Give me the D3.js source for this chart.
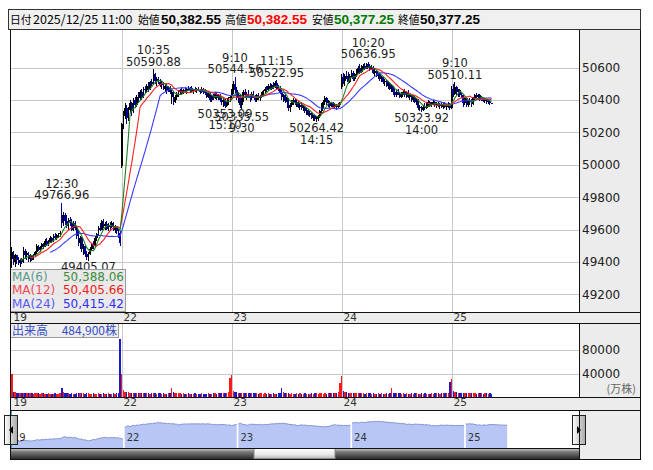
<!DOCTYPE html>
<html><head><meta charset="utf-8">
<script src="https://cdn.jsdelivr.net/npm/d3@7/dist/d3.min.js"></script>
<style>body{margin:0;background:#fff}svg{display:block}</style>
</head><body><svg id="c" width="653" height="470"></svg>
<script>
// ---------- DATA ----------
const days = ["19", "22", "23", "24", "25"];
// OHLC per 5-minute bar, one array per day
const ohlc19 = [[49420,49490,49360,49460],[49460,49470,49380,49400],[49400,49450,49370,49440],[49440,49445,49390,49410],[49410,49430,49380,49395],[49395,49420,49370,49415],[49415,49425,49385,49400],[49400,49490,49395,49470],[49470,49480,49420,49440],[49440,49465,49410,49455],[49455,49460,49400,49420],[49420,49450,49400,49440],[49440,49445,49405,49415],[49415,49450,49410,49445],[49445,49470,49430,49460],[49460,49510,49450,49500],[49500,49505,49465,49475],[49475,49500,49460,49490],[49490,49520,49480,49510],[49510,49515,49480,49495],[49495,49540,49490,49530],[49530,49545,49500,49510],[49510,49535,49500,49525],[49525,49560,49515,49550],[49550,49555,49520,49530],[49530,49570,49525,49560],[49560,49580,49540,49545],[49545,49575,49535,49565],[49565,49580,49550,49570],[49570,49590,49555,49580],[49690,49767,49610,49640],[49640,49710,49620,49690],[49690,49700,49630,49650],[49650,49690,49610,49625],[49625,49670,49600,49660],[49660,49680,49620,49640],[49640,49665,49590,49600],[49600,49650,49590,49640],[49640,49655,49600,49610],[49610,49620,49540,49560],[49560,49590,49500,49520],[49520,49560,49480,49550],[49550,49555,49460,49480],[49480,49510,49440,49500],[49500,49505,49430,49450],[49450,49470,49415,49430],[49430,49460,49405,49450],[49450,49490,49440,49480],[49480,49520,49470,49510],[49510,49530,49480,49500],[49500,49560,49495,49550],[49550,49580,49530,49570],[49570,49620,49560,49610],[49610,49640,49590,49600],[49600,49660,49595,49650],[49650,49665,49610,49620],[49620,49645,49600,49635],[49635,49650,49595,49605],[49605,49640,49590,49630],[49630,49645,49600,49615],[49615,49650,49610,49640],[49640,49645,49590,49600],[49600,49630,49580,49620],[49620,49625,49570,49590],[49590,49610,49550,49580],[49580,49590,49500,49520]];
const ohlc22 = [[49990,50260,49980,50250],[50250,50330,50220,50300],[50300,50380,50280,50350],[50350,50370,50250,50290],[50290,50360,50270,50340],[50340,50400,50320,50380],[50380,50390,50300,50330],[50330,50410,50320,50400],[50400,50420,50350,50370],[50370,50430,50360,50420],[50420,50450,50390,50410],[50410,50460,50400,50450],[50450,50470,50400,50420],[50420,50480,50410,50470],[50470,50490,50440,50460],[50460,50500,50450,50490],[50490,50510,50450,50470],[50470,50520,50460,50510],[50510,50530,50490,50500],[50500,50591,50495,50560],[50560,50570,50500,50520],[50520,50540,50490,50530],[50530,50545,50500,50510],[50510,50530,50480,50495],[50495,50520,50470,50500],[50500,50510,50460,50470],[50470,50500,50450,50490],[50490,50500,50440,50460],[50460,50490,50450,50480],[50480,50490,50440,50450],[50420,50460,50375,50450],[50450,50455,50370,50390],[50390,50430,50380,50420],[50420,50450,50400,50440],[50440,50460,50420,50450],[50450,50470,50430,50460],[50460,50480,50440,50445],[50445,50470,50435,50465],[50465,50480,50450,50455],[50455,50475,50440,50470],[50470,50490,50455,50460],[50460,50480,50445,50475],[50475,50485,50450,50455],[50455,50470,50440,50465],[50465,50480,50450,50460],[50460,50475,50445,50470],[50470,50480,50455,50460],[50460,50470,50440,50450],[50450,50480,50445,50470],[50470,50475,50440,50455],[50455,50470,50430,50445],[50445,50460,50410,50420],[50420,50450,50410,50440],[50440,50445,50390,50400],[50400,50430,50390,50425],[50425,50440,50400,50410],[50410,50450,50405,50440],[50440,50450,50400,50415],[50415,50440,50400,50430],[50430,50435,50390,50400],[50400,50420,50370,50385],[50385,50410,50360,50400],[50400,50405,50353,50365],[50365,50390,50355,50380],[50380,50420,50370,50410],[50410,50430,50390,50420]];
const ohlc23 = [[50430,50470,50400,50450],[50450,50520,50440,50500],[50500,50545,50440,50460],[50460,50480,50400,50410],[50410,50450,50380,50430],[50430,50440,50350,50370],[50370,50420,50336,50400],[50400,50460,50390,50450],[50450,50470,50420,50430],[50430,50450,50400,50440],[50440,50460,50410,50420],[50420,50440,50390,50410],[50410,50450,50400,50440],[50440,50455,50410,50420],[50420,50430,50390,50400],[50400,50440,50390,50430],[50430,50445,50400,50410],[50410,50430,50395,50425],[50425,50450,50415,50440],[50440,50460,50430,50455],[50455,50480,50440,50470],[50470,50490,50450,50460],[50460,50500,50455,50490],[50490,50505,50460,50470],[50470,50500,50465,50495],[50495,50510,50470,50480],[50480,50515,50475,50505],[50505,50523,50470,50480],[50480,50495,50455,50470],[50470,50490,50440,50450],[50450,50460,50400,50420],[50420,50440,50390,50430],[50430,50435,50380,50395],[50395,50420,50385,50410],[50410,50415,50330,50350],[50350,50380,50325,50370],[50370,50400,50360,50390],[50390,50410,50370,50400],[50400,50405,50370,50380],[50380,50400,50360,50390],[50390,50395,50350,50360],[50360,50380,50340,50370],[50370,50385,50340,50350],[50350,50370,50330,50360],[50360,50365,50320,50330],[50330,50350,50310,50340],[50340,50345,50300,50310],[50310,50330,50295,50320],[50320,50325,50280,50290],[50290,50310,50270,50300],[50300,50305,50270,50280],[50280,50300,50264,50290],[50290,50310,50270,50300],[50300,50340,50290,50330],[50330,50380,50320,50370],[50370,50400,50350,50390],[50390,50425,50370,50410],[50410,50420,50370,50380],[50380,50400,50360,50390],[50390,50395,50350,50365],[50365,50390,50355,50380],[50380,50385,50350,50360],[50360,50380,50345,50370],[50370,50375,50340,50355],[50355,50380,50350,50370],[50370,50390,50360,50380]];
const ohlc24 = [[50480,50560,50470,50540],[50540,50570,50500,50520],[50520,50560,50490,50550],[50550,50580,50530,50540],[50540,50575,50500,50510],[50510,50560,50505,50550],[50550,50585,50540,50570],[50570,50580,50520,50530],[50530,50570,50520,50560],[50560,50590,50540,50580],[50580,50610,50570,50600],[50600,50620,50560,50575],[50575,50615,50570,50605],[50605,50625,50590,50610],[50610,50630,50585,50595],[50595,50630,50590,50620],[50620,50637,50600,50610],[50610,50625,50580,50590],[50590,50615,50585,50600],[50600,50610,50560,50570],[50570,50590,50550,50580],[50580,50585,50540,50550],[50550,50570,50530,50560],[50560,50565,50520,50530],[50530,50550,50510,50540],[50540,50545,50500,50510],[50510,50530,50490,50520],[50520,50525,50480,50490],[50490,50510,50470,50500],[50500,50505,50460,50470],[50470,50495,50450,50485],[50485,50490,50430,50450],[50450,50475,50420,50430],[50430,50460,50420,50450],[50450,50470,50430,50440],[50440,50450,50410,50420],[50420,50450,50410,50440],[50440,50460,50430,50450],[50450,50470,50420,50430],[50430,50455,50415,50445],[50445,50460,50410,50420],[50420,50440,50400,50430],[50430,50435,50390,50400],[50400,50430,50390,50420],[50420,50425,50380,50390],[50390,50410,50370,50400],[50400,50405,50340,50350],[50350,50370,50330,50360],[50360,50365,50324,50340],[50340,50370,50330,50360],[50360,50380,50340,50350],[50350,50385,50345,50375],[50375,50400,50360,50390],[50390,50395,50360,50370],[50370,50390,50355,50380],[50380,50400,50370,50390],[50390,50395,50360,50370],[50370,50385,50350,50375],[50375,50390,50355,50365],[50365,50380,50345,50370],[50370,50385,50350,50360],[50360,50380,50345,50375],[50375,50385,50350,50360],[50360,50375,50340,50365],[50360,50385,50350,50375],[50375,50380,50340,50350]];
const ohlc25 = [[50350,50490,50345,50470],[50470,50500,50420,50440],[50440,50510,50430,50480],[50480,50490,50430,50450],[50450,50470,50420,50460],[50460,50470,50420,50430],[50430,50450,50410,50420],[50420,50430,50360,50380],[50380,50420,50370,50410],[50410,50415,50360,50370],[50370,50400,50360,50390],[50390,50410,50370,50400],[50400,50405,50360,50375],[50375,50420,50370,50410],[50410,50440,50400,50430],[50430,50445,50410,50420],[50420,50440,50405,50430],[50430,50435,50395,50405],[50405,50425,50395,50415],[50415,50420,50385,50395],[50395,50410,50380,50400],[50400,50405,50375,50385],[50385,50400,50375,50395],[50395,50400,50370,50383],[50382.55,50382.55,50377.25,50377.25]];
// volume per bar
const vol19 = [40000,9000,8000,7500,7000,6500,7000,7500,6500,6000,7000,6000,6500,5500,6000,7000,6000,5500,6000,6500,5000,5500,6000,5000,5500,5000,6000,5500,5000,6000,15500,8000,7000,6000,6500,5500,6000,5000,5500,6500,6000,7000,6500,6000,5500,6000,7000,5500,5000,6000,5500,5000,6000,5500,5000,6500,5000,5500,6000,5000,5500,6000,5500,6500,7000,98000];
const vol22 = [40000,12000,9000,8000,8000,7500,7000,7500,6500,7000,6500,6000,6500,7000,6000,6500,6000,5500,7000,6500,6000,5500,6000,6500,5500,6000,5500,5000,6000,6500,15000,8000,7000,6500,6000,6500,5500,6000,5500,5000,6000,5500,5000,5500,6000,5000,5500,5000,6000,5500,5000,5500,6000,5500,5000,6000,6500,5500,6000,6500,6000,7000,6500,7000,8000,32000];
const vol23 = [38000,11000,8500,8000,7500,7000,7500,6500,7000,6500,6000,6500,7000,6000,6500,6000,5500,6500,6000,5500,6000,5500,6000,5000,5500,6000,5500,5000,6000,6500,15000,8000,7000,6500,6000,5500,6000,5500,5000,6000,5500,6000,5000,5500,6000,5500,5000,5500,6000,5500,6500,6000,5500,6000,6500,5500,6000,5500,6000,6500,6000,6500,7000,7500,9000,23000];
const vol24 = [35000,11000,9000,8000,7500,7000,7500,7000,6500,7000,6500,6000,6500,6000,5500,6000,6500,6000,5500,6000,5500,5000,6000,5500,6000,5000,5500,6000,5500,6000,15000,7500,7000,6500,6000,6500,5500,6000,5500,6000,5500,5000,6000,5500,6000,6500,5500,5000,6000,5500,6000,5500,5000,5500,6000,5500,6000,6500,6000,5500,6000,6500,7000,7500,6000,26000];
const vol25 = [31000,11000,9000,8000,7500,7000,7500,6500,7000,6000,6500,6000,7000,6500,6000,5500,6000,6500,6000,5500,6000,6500,5500,6000,5500];

const priceTicks = [49200, 49400, 49600, 49800, 50000, 50200, 50400, 50600];
const volTicks = [40000, 80000];
// swing annotations (bar index, time, value, High/Low)
const annIdx   = [30, 46, 85, 128, 134, 138, 159, 183, 214, 246, 266];
const annTime  = ["12:30","13:50","10:35","15:10","9:10","9:30","11:15","14:15","10:20","14:00","9:10"];
const annValue = [49766.96, 49405.07, 50590.88, 50353.09, 50544.56, 50335.55, 50522.95, 50264.42, 50636.95, 50323.92, 50510.11];
const annKind  = ["H","L","H","L","H","L","H","L","H","L","H"];
const maPeriods = [24, 12, 6];
const maColors  = ["#3a3aff", "#ff2020", "#1f7f1f"];
const maLegendLabels = ["MA(6)", "MA(12)", "MA(24)"];
const maLegendValues = ["50,388.06", "50,405.66", "50,415.42"];
const maLegendLabelColors = ["#5a9a8a", "#f04858", "#5a5af0"];
const maLegendValueColors = ["#3c8c3c", "#f02020", "#3030f0"];
const headerParts = [
  {t:"日付", x:10, kind:"j", c:"#000"},
  {t:"2025/12/25 11:00", x:33, kind:"n", c:"#000"},
  {t:"始値", x:138, kind:"j", c:"#000"},
  {t:"50,382.55", x:161, kind:"b", c:"#000"},
  {t:"高値", x:225, kind:"j", c:"#000"},
  {t:"50,382.55", x:247, kind:"b", c:"#ff0000"},
  {t:"安値", x:312, kind:"j", c:"#000"},
  {t:"50,377.25", x:334, kind:"b", c:"#007a00"},
  {t:"終値", x:398, kind:"j", c:"#000"},
  {t:"50,377.25", x:420, kind:"b", c:"#000"}
];
const volLabel = "出来高";
const volValue = "484,900株";
const volUnit = "(万株)";

// ---------- BUILD ----------
const perDay = [ohlc19, ohlc22, ohlc23, ohlc24, ohlc25];
const vols = [vol19, vol22, vol23, vol24, vol25];
const bars = [];
const dayStart = [];
perDay.forEach((arr, d) => {
  dayStart.push(bars.length);
  arr.forEach((q, k) => bars.push({i: bars.length, day: d, o:q[0], h:q[1], l:q[2], c:q[3], v: vols[d][k]}));
});

const svg = d3.select("#c");
const defs = svg.append("defs");
const FONT = "'DejaVu Sans', Verdana, sans-serif";
const JFONT = "'Noto Sans CJK JP', 'DejaVu Sans', sans-serif";

const L = 10, R = 579, RR = 640;
const x = d3.scaleLinear().domain([-0.5, 340.5]).range([11, 579]);
const y = d3.scaleLinear().domain([49200, 50600]).range([294.3, 67.7]);
const yv = d3.scaleLinear().domain([0, 80000]).range([397, 350]);
const xn = d3.scaleLinear().domain([0, 66]).range([11, 124.7]);
const yn = d3.scaleLinear().domain([49300, 50700]).range([443, 420]);

defs.append("clipPath").attr("id","cm").append("rect").attr("x",L).attr("y",30).attr("width",R-L).attr("height",282);
defs.append("clipPath").attr("id","cv").append("rect").attr("x",L).attr("y",323).attr("width",R-L).attr("height",74);
defs.append("clipPath").attr("id","cn").append("rect").attr("x",L).attr("y",410).attr("width",R-L).attr("height",38);

// gradients
const gTrack = defs.append("linearGradient").attr("id","gTrack").attr("x1",0).attr("y1",0).attr("x2",0).attr("y2",1);
[["0%","#d8d8d8"],["35%","#7a7a7a"],["100%","#2a2a2a"]].forEach(s=>gTrack.append("stop").attr("offset",s[0]).attr("stop-color",s[1]));
const gThumb = defs.append("linearGradient").attr("id","gThumb").attr("x1",0).attr("y1",0).attr("x2",0).attr("y2",1);
[["0%","#ffffff"],["60%","#e8e8e8"],["100%","#b8b8b8"]].forEach(s=>gThumb.append("stop").attr("offset",s[0]).attr("stop-color",s[1]));
const gBtn = defs.append("linearGradient").attr("id","gBtn").attr("x1",0).attr("y1",0).attr("x2",1).attr("y2",0);
[["0%","#ffffff"],["100%","#a8a8a8"]].forEach(s=>gBtn.append("stop").attr("offset",s[0]).attr("stop-color",s[1]));

// backgrounds
svg.append("rect").attr("width",653).attr("height",470).attr("fill","#fff");
svg.append("rect").attr("x",8.5).attr("y",9.5).attr("width",632).attr("height",20).attr("fill","#f0f0f0").attr("stroke","#333");
const panelFill = "#ececec";
svg.append("rect").attr("x",R).attr("y",30).attr("width",RR-R).attr("height",429).attr("fill",panelFill);
svg.append("rect").attr("x",L).attr("y",312).attr("width",RR-L).attr("height",11).attr("fill",panelFill);
svg.append("rect").attr("x",L).attr("y",397).attr("width",RR-L).attr("height",13).attr("fill",panelFill);

// header
const hg = svg.append("g");
headerParts.forEach(p => {
  const t = hg.append("text").attr("x",p.x).attr("y",24).text(p.t).attr("fill",p.c);
  if (p.kind === "b") t.attr("font-family","'Liberation Sans', Arial, sans-serif").attr("font-weight","bold").attr("font-size","13.5px");
  else if (p.kind === "j") t.attr("font-family",JFONT).attr("font-size","10.8px");
  else t.attr("font-family",JFONT).attr("font-size","12.5px");
});

// gridlines
const grid = svg.append("g").attr("stroke","#c8c8c8").attr("stroke-width",1);
priceTicks.forEach(t => grid.append("line").attr("x1",L).attr("x2",R).attr("y1",Math.round(y(t))+0.5).attr("y2",Math.round(y(t))+0.5));
volTicks.forEach(t => grid.append("line").attr("x1",L).attr("x2",R).attr("y1",Math.round(yv(t))+0.5).attr("y2",Math.round(yv(t))+0.5));
dayStart.slice(1).forEach(s => {
  const xx = Math.round(x(s)) + 0.5;
  grid.append("line").attr("x1",xx).attr("x2",xx).attr("y1",30).attr("y2",312);
  grid.append("line").attr("x1",xx).attr("x2",xx).attr("y1",323).attr("y2",397);
});

// candles
const cg = svg.append("g").attr("clip-path","url(#cm)").attr("shape-rendering","crispEdges");
const upC = "#000000", dnC = "#000090";
cg.selectAll("line.w").data(bars).join("line")
  .attr("x1", d => x(d.i)).attr("x2", d => x(d.i))
  .attr("y1", d => y(d.h)).attr("y2", d => y(d.l))
  .attr("stroke", d => d.c >= d.o ? upC : dnC).attr("stroke-width",1);
cg.selectAll("rect.b").data(bars).join("rect")
  .attr("x", d => x(d.i) - 0.9).attr("width", 1.9)
  .attr("y", d => y(Math.max(d.o,d.c)))
  .attr("height", d => Math.max(1, Math.abs(y(d.o) - y(d.c))))
  .attr("fill", d => d.c >= d.o ? upC : dnC);

// moving averages
const closes = bars.map(b => b.c);
const mg = svg.append("g").attr("clip-path","url(#cm)");
maPeriods.forEach((n, k) => {
  const pts = [];
  for (let i = n - 1; i < closes.length; i++) {
    pts.push([i, d3.mean(closes.slice(i - n + 1, i + 1))]);
  }
  mg.append("path").datum(pts)
    .attr("d", d3.line().x(d => x(d[0])).y(d => y(d[1])))
    .attr("fill","none").attr("stroke", maColors[k]).attr("stroke-width",1.1);
});

// annotations
const ag = svg.append("g").attr("font-family",FONT).attr("font-size","11.5px").attr("fill","#222").attr("text-anchor","middle");
annIdx.forEach((idx, k) => {
  const px = x(idx), py = y(annValue[k]);
  const vtxt = annValue[k].toFixed(2);
  if (annKind[k] === "H") {
    ag.append("text").attr("x",px).attr("y",py - 15).text(annTime[k]);
    ag.append("text").attr("x",px).attr("y",py - 3.5).text(vtxt);
  } else {
    ag.append("text").attr("x",px).attr("y",py + 10).text(vtxt);
    ag.append("text").attr("x",px).attr("y",py + 21.5).text(annTime[k]);
  }
});

// MA legend box
const lg = svg.append("g");
lg.append("rect").attr("x",10.5).attr("y",269.5).attr("width",115).attr("height",42).attr("fill","#e8e8e8").attr("fill-opacity",0.92).attr("stroke","#9a9a9a");
maLegendLabels.forEach((t, k) => {
  const by = 281 + k * 13.4;
  lg.append("text").attr("x",12).attr("y",by).text(t).attr("fill",maLegendLabelColors[k]).attr("font-family",FONT).attr("font-size","12px");
  lg.append("text").attr("x",124).attr("y",by).text(maLegendValues[k]).attr("text-anchor","end").attr("fill",maLegendValueColors[k]).attr("font-family",FONT).attr("font-size","12px");
});

// price axis
const ya = svg.append("g").attr("transform",`translate(${R+3},0)`)
  .call(d3.axisRight(y).tickValues(priceTicks).tickSize(0).tickPadding(0).tickFormat(d3.format("d")));
ya.select(".domain").remove();
ya.selectAll("text").attr("font-family",FONT).attr("font-size","12px").attr("fill","#222");

// day labels on strips
const dg = svg.append("g").attr("font-family",FONT).attr("font-size","10.5px").attr("fill","#333");
dayStart.forEach((s, d) => {
  const xx = Math.round(x(s)) + 1.5;
  dg.append("text").attr("x",xx).attr("y",321).text(days[d]);
  dg.append("text").attr("x",xx).attr("y",406).text(days[d]);
});

// volume bars
const vg = svg.append("g").attr("clip-path","url(#cv)").attr("shape-rendering","crispEdges");
vg.selectAll("rect").data(bars).join("rect")
  .attr("x", d => x(d.i) - 0.7).attr("width", 1.4)
  .attr("y", d => yv(d.v)).attr("height", d => 397 - yv(d.v))
  .attr("fill", d => d.c >= d.o ? "#ff1a1a" : "#1a1acc");

// volume axis
const va = svg.append("g").attr("transform",`translate(${R+3},0)`)
  .call(d3.axisRight(yv).tickValues(volTicks).tickSize(0).tickPadding(0).tickFormat(d3.format("d")));
va.select(".domain").remove();
va.selectAll("text").attr("font-family",FONT).attr("font-size","12px").attr("fill","#222");
svg.append("text").attr("x",636).attr("y",393).attr("text-anchor","end").text(volUnit)
  .attr("font-family",JFONT).attr("font-size","11px").attr("fill","#666");

// volume label box
svg.append("rect").attr("x",10.5).attr("y",323.5).attr("width",108).attr("height",14).attr("fill","#eeeeee").attr("stroke","#9a9a9a");
svg.append("text").attr("x",12).attr("y",335).text(volLabel).attr("font-family",JFONT).attr("font-size","12px").attr("fill","#3a50c8");
svg.append("text").attr("x",117).attr("y",335).attr("text-anchor","end").text(volValue).attr("font-family",JFONT).attr("font-size","12px").attr("fill","#3a50c8");

// navigator
const ng = svg.append("g").attr("clip-path","url(#cn)");
perDay.forEach((arr, d) => {
  const seg = bars.filter(b => b.day === d).map(b => ({n: b.i - dayStart[d] + d * 66, c: b.c}));
  ng.append("path").datum(seg)
    .attr("d", d3.area().x(p => xn(p.n)).y0(448).y1(p => yn(p.c)))
    .attr("fill","#b8c6f6");
  ng.append("path").datum(seg)
    .attr("d", d3.line().x(p => xn(p.n)).y(p => yn(p.c)))
    .attr("fill","none").attr("stroke","#8492d4").attr("stroke-width",1);
});
const nl = svg.append("g").attr("font-family",FONT).attr("font-size","10px").attr("fill","#333");
days.forEach((t, d) => nl.append("text").attr("x", xn(d * 66) + 2).attr("y",441).text(t));
svg.append("line").attr("x1",11.5).attr("x2",11.5).attr("y1",410).attr("y2",448).attr("stroke","#33aacc");
svg.append("line").attr("x1",579.5).attr("x2",579.5).attr("y1",410).attr("y2",448).attr("stroke","#33aacc");

// scrollbar
svg.append("rect").attr("x",L).attr("y",448).attr("width",R-L).attr("height",11).attr("fill","url(#gTrack)");
svg.append("rect").attr("x",254).attr("y",448.5).attr("width",81).attr("height",10).attr("fill","url(#gThumb)").attr("stroke","#888");

// nav buttons
[[4.5,"L"],[572.5,"R"]].forEach(([bx, dir]) => {
  svg.append("rect").attr("x",bx).attr("y",415.5).attr("width",13).attr("height",29).attr("fill","url(#gBtn)").attr("stroke","#222");
  const cx = bx + 6.5, cy = 430;
  const pts = dir === "L" ? [[cx+2,cy-4],[cx+2,cy+4],[cx-2,cy]] : [[cx-2,cy-4],[cx-2,cy+4],[cx+2,cy]];
  svg.append("path").attr("d", d3.line()(pts) + "Z").attr("fill","#000");
});

// borders
const bd = svg.append("g").attr("stroke","#111").attr("stroke-width",1).attr("shape-rendering","crispEdges");
[[L+0.5,30,L+0.5,459],[RR+0.5,30,RR+0.5,459],[R+0.5,30,R+0.5,312],[R+0.5,323,R+0.5,397],[R+0.5,410,R+0.5,459],
 [L,312.5,RR,312.5],[L,323.5,RR,323.5],[L,397.5,RR,397.5],[L,410.5,RR,410.5],[L,459.5,RR+1,459.5],[L,448.5,R,448.5]]
 .forEach(a => bd.append("line").attr("x1",a[0]).attr("y1",a[1]).attr("x2",a[2]).attr("y2",a[3]));
</script></body></html>
